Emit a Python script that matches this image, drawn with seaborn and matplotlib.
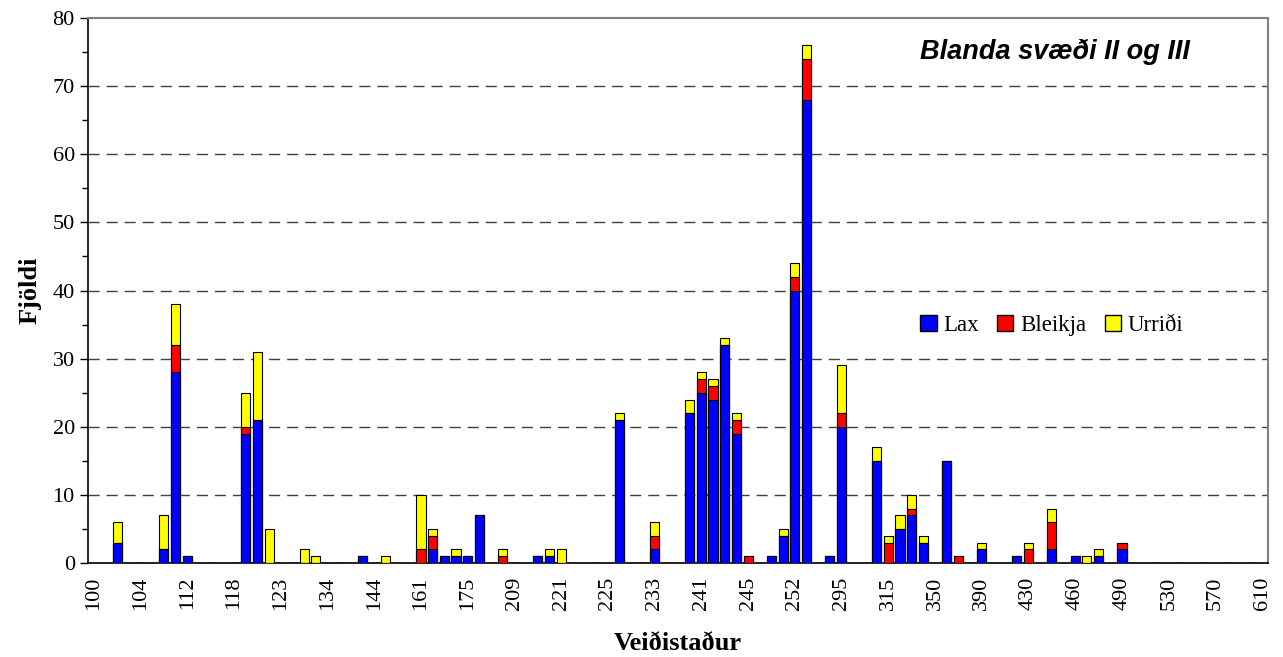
import numpy as np
import pandas as pd
import matplotlib
matplotlib.use("Agg")
import matplotlib.pyplot as plt
import seaborn as sns
from matplotlib.patches import Patch

# categories (veidistadir) - only every 4th label is shown on the axis
n_cat = 101
tick_labels = ['100', '104', '112', '118', '123', '134', '144', '161', '175', '209',
               '221', '225', '233', '241', '245', '252', '295', '315', '350', '390',
               '430', '460', '490', '530', '570', '610']

# category index of each non-empty bar and the counts per species
bar_pos = [2, 6, 7, 8, 13, 14, 15, 18, 19, 23, 25, 28, 29, 30, 31, 32, 33, 35, 38, 39,
           40, 45, 48, 51, 52, 53, 54, 55, 56, 58, 59, 60, 61, 63, 64, 67, 68, 69, 70, 71,
           73, 74, 76, 79, 80, 82, 84, 85, 86, 88]
lax = [3, 2, 28, 1, 19, 21, 0, 0, 0, 1, 0, 0, 2, 1, 1, 1, 7, 0, 1, 1,
       0, 21, 2, 22, 25, 24, 32, 19, 0, 1, 4, 40, 68, 1, 20, 15, 0, 5, 7, 3,
       15, 0, 2, 1, 0, 2, 1, 0, 1, 2]
bleikja = [0, 0, 4, 0, 1, 0, 0, 0, 0, 0, 0, 2, 2, 0, 0, 0, 0, 1, 0, 0,
           0, 0, 2, 0, 2, 2, 0, 2, 1, 0, 0, 2, 6, 0, 2, 0, 3, 0, 1, 0,
           0, 1, 0, 0, 2, 4, 0, 0, 0, 1]
urridi = [3, 5, 6, 0, 5, 10, 5, 2, 1, 0, 1, 8, 1, 0, 1, 0, 0, 1, 0, 1,
          2, 1, 2, 2, 1, 1, 1, 1, 0, 0, 1, 2, 2, 0, 7, 2, 1, 2, 2, 1,
          0, 0, 1, 0, 1, 2, 0, 1, 1, 0]

df = pd.DataFrame({'pos': np.arange(n_cat), 'Lax': 0, 'Bleikja': 0, 'Urridi': 0})
df.loc[bar_pos, 'Lax'] = lax
df.loc[bar_pos, 'Bleikja'] = bleikja
df.loc[bar_pos, 'Urridi'] = urridi
df['lb'] = df['Lax'] + df['Bleikja']
df['total'] = df['lb'] + df['Urridi']

sns.set_style("white")
plt.rcParams['font.family'] = ['Liberation Serif', 'DejaVu Serif']
plt.rcParams['text.color'] = 'black'
plt.rcParams['axes.labelcolor'] = 'black'
plt.rcParams['xtick.color'] = 'black'
plt.rcParams['ytick.color'] = 'black'

fig = plt.figure(figsize=(12.83, 6.57), dpi=100)
ax = fig.add_axes([88/1283, 94/657, 1180/1283, 545/657])

# stacked look: draw cumulative totals on top of each other
kw = dict(width=0.78, saturation=1, edgecolor='black', linewidth=0.8, ax=ax, zorder=3)
sns.barplot(data=df, x='pos', y='total', color='#FFFF00', **kw)
sns.barplot(data=df, x='pos', y='lb', color='#FF0000', **kw)
sns.barplot(data=df, x='pos', y='Lax', color='#0000FF', **kw)

ax.set_xlim(-0.5, n_cat - 0.5)
ax.set_ylim(0, 80)
ax.set_yticks(range(0, 81, 10))
ax.set_yticks(range(5, 80, 10), minor=True)
ax.set_xticks(range(0, n_cat, 4))
ax.set_xticklabels(tick_labels, rotation=90)
ax.set_xticks(np.arange(-0.5, n_cat, 1), minor=True)
ax.tick_params(axis='x', which='major', length=0, labelsize=16, pad=10)
ax.tick_params(axis='x', which='minor', length=7, width=1, direction='out', color='black')
ax.tick_params(axis='y', which='major', length=6, width=1, direction='out', labelsize=16, left=True)
ax.tick_params(axis='y', which='minor', length=4, width=1, direction='out', left=True)

for y in range(10, 80, 10):
    ax.axhline(y, color='#404040', lw=1, ls=(0, (8, 5)), zorder=1)

for s in ['left', 'bottom']:
    ax.spines[s].set_color('black')
    ax.spines[s].set_linewidth(1.2)
for s in ['top', 'right']:
    ax.spines[s].set_color('#808080')
    ax.spines[s].set_linewidth(1.5)

ax.set_xlabel('Veiðistaður', fontsize=19, fontweight='bold', labelpad=16)
ax.set_ylabel('Fjöldi', fontsize=19, fontweight='bold', labelpad=8)

ax.text(0.934, 0.9376, 'Blanda svæði II og III', transform=ax.transAxes, ha='right', va='center',
        fontsize=19.5, fontweight='bold', style='italic', color='black',
        family=['Liberation Sans', 'DejaVu Sans'])

handles = [Patch(facecolor='#0000FF', edgecolor='black', label='Lax'),
           Patch(facecolor='#FF0000', edgecolor='black', label='Bleikja'),
           Patch(facecolor='#FFFF00', edgecolor='black', label='Urriði')]
ax.legend(handles=handles, loc='center left', bbox_to_anchor=(0.688, 0.435), ncol=3,
          frameon=False, fontsize=16.5, handlelength=0.7, handleheight=0.7,
          handletextpad=0.3, columnspacing=0.8)

plt.savefig('out.png', dpi=100)
